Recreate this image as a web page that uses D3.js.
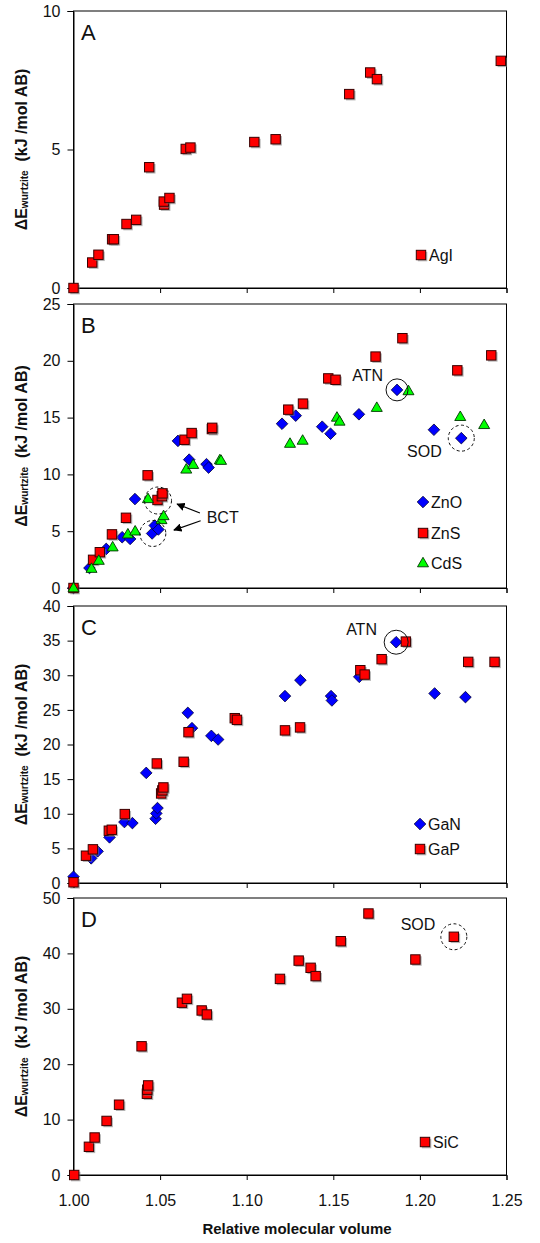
<!DOCTYPE html>
<html><head><meta charset="utf-8">
<script src="https://cdn.jsdelivr.net/npm/d3@7/dist/d3.min.js"></script>
<style>
html,body{margin:0;padding:0;background:#fff;}
svg{display:block;font-family:"Liberation Sans",Arial,sans-serif;}
</style></head>
<body>
<svg id="chart" width="540" height="1243"></svg>
<script>
// ---------- DATA ----------
const X_TICKS = [1.00, 1.05, 1.10, 1.15, 1.20, 1.25];
const Y_TICKS_A = [0, 5, 10];
const Y_TICKS_B = [0, 5, 10, 15, 20, 25];
const Y_TICKS_C = [0, 5, 10, 15, 20, 25, 30, 35, 40];
const Y_TICKS_D = [0, 10, 20, 30, 40, 50];

const agI = [[1.000,0],[1.0108,0.92],[1.0144,1.2],[1.0223,1.76],[1.0233,1.76],[1.0306,2.31],[1.0362,2.46],[1.0437,4.36],[1.0523,3.01],[1.0521,3.12],[1.0554,3.25],[1.0648,5.02],[1.0675,5.07],[1.1044,5.27],[1.1167,5.37],[1.1592,7.0],[1.1713,7.78],[1.1752,7.54],[1.2467,8.2]];

const znO = [[1.0,0],[1.0092,1.76],[1.0189,3.44],[1.0281,4.47],[1.0327,4.32],[1.0355,7.83],[1.0454,4.8],[1.0469,5.5],[1.0490,5.15],[1.0603,12.95],[1.0668,11.3],[1.0768,10.9],[1.0780,10.6],[1.1204,14.46],[1.1283,15.17],[1.1436,14.2],[1.1484,13.58],[1.1648,15.29],[1.1868,17.44],[1.2081,13.93],[1.2239,13.19]];
const znS = [[1.0,0],[1.0113,2.48],[1.0152,3.15],[1.0222,4.72],[1.0303,6.18],[1.0428,9.92],[1.0485,7.75],[1.0510,8.08],[1.0514,8.33],[1.0641,13.05],[1.0682,13.64],[1.0799,13.99],[1.0801,14.1],[1.1240,15.7],[1.1325,16.23],[1.1471,18.45],[1.1513,18.33],[1.1744,20.37],[1.1899,21.99],[1.2216,19.16],[1.2412,20.48]];
const cdS = [[1.0,0],[1.0104,1.71],[1.0146,2.42],[1.0226,3.6],[1.0314,4.74],[1.0356,5.0],[1.0430,7.85],[1.0508,6.0],[1.0520,6.35],[1.0651,10.45],[1.0691,10.86],[1.0845,11.27],[1.0852,11.22],[1.1250,12.72],[1.1323,12.99],[1.1521,15.02],[1.1536,14.67],[1.1751,15.88],[1.1934,17.35],[1.2233,15.08],[1.2371,14.37]];

const gaN = [[1.0,0.91],[1.0102,3.56],[1.0139,4.57],[1.0208,6.59],[1.0294,8.8],[1.0340,8.65],[1.0420,15.9],[1.0474,9.28],[1.0478,10.05],[1.0485,10.82],[1.0660,24.57],[1.0684,22.36],[1.0796,21.25],[1.0835,20.72],[1.1221,26.99],[1.1310,29.29],[1.1487,26.99],[1.1492,26.36],[1.1650,29.77],[1.1863,34.77],[1.2085,27.37],[1.2263,26.84]];
const gaP = [[1.0,0.1],[1.0072,3.94],[1.0112,4.86],[1.0204,7.55],[1.0221,7.69],[1.0296,9.95],[1.0481,17.26],[1.0506,12.93],[1.0513,13.37],[1.0519,13.8],[1.0636,17.5],[1.0664,21.78],[1.0931,23.8],[1.0944,23.56],[1.1221,22.04],[1.1308,22.47],[1.1656,30.73],[1.1681,30.1],[1.1779,32.32],[1.1919,34.86],[1.2279,31.93],[1.2431,31.93]];

const siC = [[1.0004,0],[1.0089,5.09],[1.0122,6.77],[1.0191,9.76],[1.0263,12.69],[1.0393,23.23],[1.0424,14.67],[1.0426,15.4],[1.0431,16.17],[1.0626,31.1],[1.0655,31.8],[1.0740,29.7],[1.0770,28.97],[1.1192,35.4],[1.1300,38.7],[1.1369,37.4],[1.1398,35.9],[1.1543,42.2],[1.1703,47.2],[1.1974,38.9],[1.2196,43.0]];

// annotations (data coords)
const annoB_circles = [[1.1868,17.44,11,false],[1.2239,13.19,13,true],[1.0488,7.7,13.5,true],[1.0458,4.8,13,true]];
const annoB_texts = [["ATN",1.1787,18.2,"end"],["SOD",1.1926,11.5,"start"],["BCT",1.0769,5.72,"start"]];
const annoB_arrows = [[1.0730,6.6,1.0598,7.39],[1.0734,5.92,1.0580,5.1]];
const annoC_circles = [[1.1863,34.77,12,false]];
const annoC_texts = [["ATN",1.1752,35.8,"end"]];
const annoD_circles = [[1.2196,43.0,13,true]];
const annoD_texts = [["SOD",1.1889,44.2,"start"]];

// ---------- DRAW ----------
const svg = d3.select("#chart");
const X0 = 73.5, X1 = 506.5;
const x = d3.scaleLinear().domain([1.0, 1.25]).range([X0, X1]);

const defs = svg.append("defs");
defs.append("marker").attr("id","arr").attr("viewBox","0 0 10 10").attr("refX",9).attr("refY",5)
  .attr("markerWidth",7).attr("markerHeight",7).attr("orient","auto")
  .append("path").attr("d","M0,0L10,5L0,10z").attr("fill","#000");

function drawMarker(g, type, px, py) {
  if (type === "square") {
    g.append("rect").attr("x",px-4.5+1.3).attr("y",py-4.5+1.3).attr("width",9.5).attr("height",9.5)
      .attr("fill","#777").attr("opacity",0.55);
    g.append("rect").attr("x",px-4.7).attr("y",py-4.7).attr("width",9.4).attr("height",9.4)
      .attr("fill","#ff0000").attr("stroke","#3a0000").attr("stroke-width",1);
  } else if (type === "diamond") {
    const r = 5.8;
    g.append("path").attr("d",`M${px},${py-r}L${px+r},${py}L${px},${py+r}L${px-r},${py}Z`)
      .attr("fill","#0000ff").attr("stroke","#000033").attr("stroke-width",0.8);
  } else {
    const h = 9.5, w = 11;
    g.append("path").attr("d",`M${px},${py-h*0.6}L${px+w/2},${py+h*0.4}L${px-w/2},${py+h*0.4}Z`)
      .attr("fill","#00ff00").attr("stroke","#003300").attr("stroke-width",0.9);
  }
}

const panels = [
  {letter:"A", top:11, bottom:288, max:10, ticks:Y_TICKS_A,
   series:[[agI,"square"]], legend:[["AgI","square",421,255]],
   circles:[], texts:[], arrows:[]},
  {letter:"B", top:304, bottom:588, max:25, ticks:Y_TICKS_B,
   series:[[znO,"diamond"],[znS,"square"],[cdS,"triangle"]],
   legend:[["ZnO","diamond",423,502],["ZnS","square",423,533],["CdS","triangle",423,563]],
   circles:annoB_circles, texts:annoB_texts, arrows:annoB_arrows},
  {letter:"C", top:606, bottom:883, max:40, ticks:Y_TICKS_C,
   series:[[gaN,"diamond"],[gaP,"square"]],
   legend:[["GaN","diamond",420,824],["GaP","square",420,849]],
   circles:annoC_circles, texts:annoC_texts, arrows:[]},
  {letter:"D", top:898, bottom:1175, max:50, ticks:Y_TICKS_D,
   series:[[siC,"square"]], legend:[["SiC","square",425,1142]],
   circles:annoD_circles, texts:annoD_texts, arrows:[], xlabels:true}
];

panels.forEach(p => {
  const y = d3.scaleLinear().domain([0, p.max]).range([p.bottom, p.top]);
  const g = svg.append("g");

  // frame
  g.append("rect").attr("x",X0).attr("y",p.top).attr("width",X1-X0).attr("height",p.bottom-p.top)
    .attr("fill","none").attr("stroke","#000").attr("stroke-width",1);

  // y axis
  const ya = d3.axisLeft(y).tickValues(p.ticks).tickSize(6).tickPadding(7).tickFormat(d3.format("d"));
  const yg = g.append("g").attr("transform",`translate(${X0},0)`).call(ya);
  yg.select(".domain").attr("stroke","#000");
  yg.selectAll("text").attr("font-size",16).attr("fill","#111")
    .attr("font-family","'Liberation Sans',Arial,sans-serif");

  // x axis
  const xa = d3.axisBottom(x).tickValues(X_TICKS).tickSize(5).tickPadding(15)
    .tickFormat(p.xlabels ? d3.format(".2f") : "");
  const xg = g.append("g").attr("transform",`translate(0,${p.bottom})`).call(xa);
  xg.select(".domain").attr("stroke","#000");
  xg.selectAll("text").attr("font-size",16).attr("fill","#111")
    .attr("font-family","'Liberation Sans',Arial,sans-serif");

  // y label
  const cy = (p.top + p.bottom) / 2;
  const yl = g.append("text").attr("transform",`translate(27,${cy}) rotate(-90)`)
    .attr("text-anchor","middle").attr("font-weight","bold").attr("font-size",16).attr("fill","#111");
  yl.append("tspan").text("ΔE");
  yl.append("tspan").attr("font-size",10).attr("dy",1).text("wurtzite");
  yl.append("tspan").attr("dy",-1).attr("xml:space","preserve").text("\u00a0\u00a0(kJ /mol AB)");

  // panel letter
  g.append("text").attr("x",81).attr("y",p.top+29).attr("font-size",22).attr("fill","#111").text(p.letter);

  // points
  p.series.forEach(([data, type]) => {
    const sg = g.append("g");
    data.forEach(d => drawMarker(sg, type, x(d[0]), y(d[1])));
  });

  // annotations
  p.circles.forEach(c => {
    g.append("circle").attr("cx",x(c[0])).attr("cy",y(c[1])).attr("r",c[2])
      .attr("fill","none").attr("stroke","#111").attr("stroke-width",1)
      .attr("stroke-dasharray", c[3] ? "3,2.5" : null);
  });
  p.texts.forEach(t => {
    g.append("text").attr("x",x(t[1])).attr("y",y(t[2])).attr("text-anchor",t[3])
      .attr("font-size",16).attr("fill","#111").text(t[0]);
  });
  p.arrows.forEach(a => {
    g.append("line").attr("x1",x(a[0])).attr("y1",y(a[1])).attr("x2",x(a[2])).attr("y2",y(a[3]))
      .attr("stroke","#000").attr("stroke-width",1.2).attr("marker-end","url(#arr)");
  });

  // legend
  p.legend.forEach(([name, type, lx, ly]) => {
    drawMarker(g, type, lx, ly);
    g.append("text").attr("x",lx+8).attr("y",ly+6).attr("font-size",16).attr("fill","#111").text(name);
  });
});

// x label
svg.append("text").attr("x",297).attr("y",1234).attr("text-anchor","middle")
  .attr("font-weight","bold").attr("font-size",15).attr("fill","#111").text("Relative molecular volume");
</script>
</body></html>
